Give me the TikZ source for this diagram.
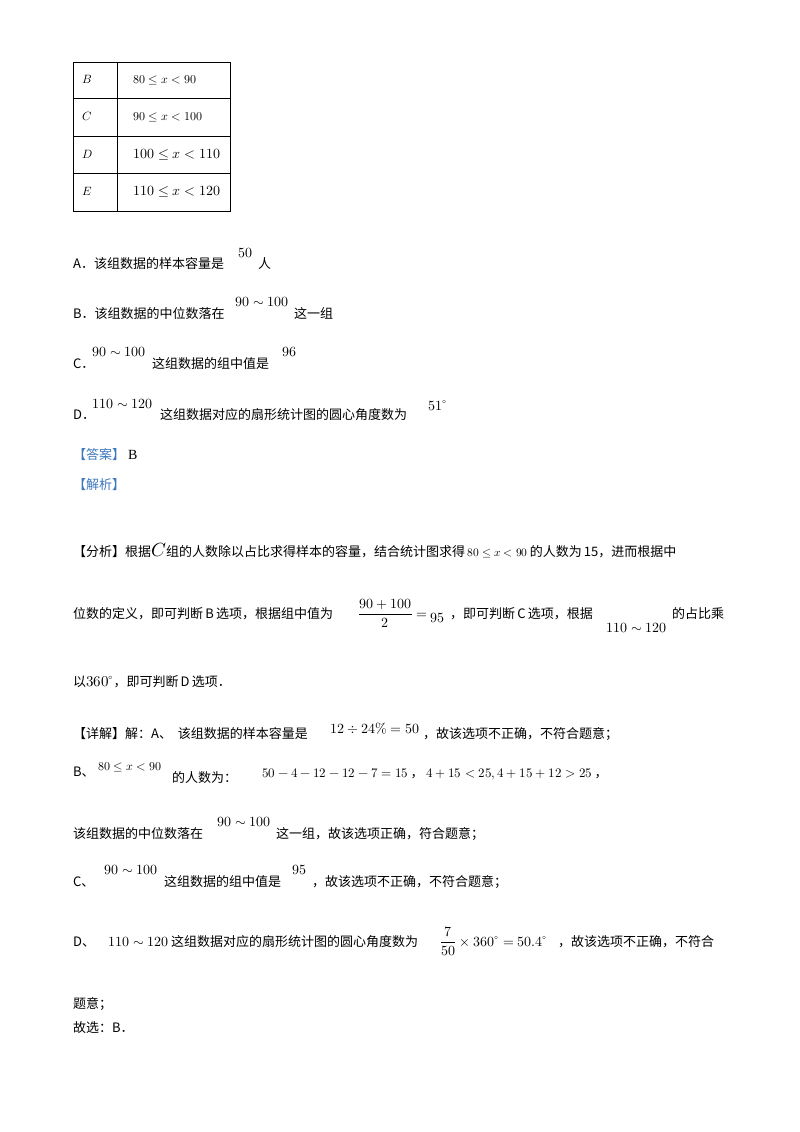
\documentclass[tikz,border=0pt]{standalone}
\usepackage{fontspec}
\usepackage{amsmath}
\usepackage{unicode-math}
\setmathfont{Latin Modern Math}
\newfontfamily\cjk{Noto Sans CJK SC}
\setmainfont{Liberation Serif}
\definecolor{hblue}{RGB}{60,120,190}
\begin{document}
\begin{tikzpicture}[x=1pt,y=-1pt,
  t/.style={anchor=base west,inner sep=0pt,font=\fontsize{13}{15}\selectfont\cjk},
  m/.style={anchor=base west,inner sep=0pt,font=\fontsize{14}{16}\selectfont},
  s/.style={anchor=base west,inner sep=0pt,font=\fontsize{12}{13}\selectfont}]
\useasboundingbox[fill=white] (0,0) rectangle (800,1132);
% table
\draw[line width=0.8pt] (73,62) rectangle (230,211);
\foreach \y in {98,136,173} \draw[line width=0.8pt] (73,\y) -- (230,\y);
\draw[line width=0.8pt] (117,62) -- (117,211);
\node[s] (rb) at (82,84) {$B$};
\node[s] (rc) at (82,120) {$C$};
\node[s] (rd) at (82,158) {$D$};
\node[s] (re) at (82,195) {$E$};
\node[s] (vb) at (133,84) {$80\le x<90$};
\node[s] (vc) at (133,120) {$90\le x<100$};
\node[m] (vd) at (133,158) {$100\le x<110$};
\node[m] (ve) at (133,195) {$110\le x<120$};
% options
\node[t] (a1) at (73,268) {A．该组数据的样本容量是};
\node[m] (a2) at (238,257) {$50$};
\node[t] (a3) at (258,268) {人};
\node[t] (b1) at (73,318) {B．该组数据的中位数落在};
\node[m] (b2) at (235,306) {$90\sim100$};
\node[t] (b3) at (294,318) {这一组};
\node[t] (c1) at (73,368) {C．};
\node[m] (c2) at (92,356) {$90\sim100$};
\node[t] (c3) at (152,368) {这组数据的组中值是};
\node[m] (c4) at (282,356) {$96$};
\node[t] (d1) at (73,419) {D．};
\node[m] (d2) at (92,408) {$110\sim120$};
\node[t] (d3) at (160,419) {这组数据对应的扇形统计图的圆心角度数为};
\node[m] (d4) at (428,410) {$51^\circ$};
\node[t,text=hblue] (ans) at (73,459) {【答案】};
\node[m] (ansb) at (128,459) {B};
\node[t,text=hblue] (jx) at (73,489) {【解析】};
% analysis
\node[t] (f1) at (73,556) {【分析】根据{\fontsize{19}{19}\selectfont$C$}组的人数除以占比求得样本的容量，结合统计图求得\,{\fontsize{11.5}{11}\selectfont$80\le x<90$}\,的人数为\,15，进而根据中};
\node[t] (f2) at (73,618) {位数的定义，即可判断\,B\,选项，根据组中值为};
\node[m] (f3) at (358,618) {$\dfrac{90+100}{2}=$};
\node[m] (f4) at (430,622) {$95$};
\node[t] (f5) at (450,618) {，即可判断\,C\,选项，根据};
\node[m] (f6) at (606,632) {$110\sim120$};
\node[t] (f7) at (672,618) {的占比乘};
\node[t] (f8) at (73,686) {以{\fontsize{15}{15}\selectfont$360^\circ$}，即可判断\,D\,选项．};
% detail
\node[t] (g1) at (73,738) {【详解】解：A、\ \ 该组数据的样本容量是};
\node[m] (g2) at (330,733) {$12\div24\%=50$};
\node[t] (g3) at (423,738) {，故该选项不正确，不符合题意；};
\node[t] (h1) at (73,776) {B、};
\node[s] (h2) at (98,770) {$80\le x<90$};
\node[t] (h3) at (172,782) {的人数为：};
\node[m,font=\fontsize{13}{15}\selectfont] (h4) at (262,777) {$50-4-12-12-7=15$};
\node[t] (h5) at ([xshift=2pt]h4.base east) {，};
\node[m,font=\fontsize{13}{15}\selectfont] (h6) at ([xshift=2pt]h5.base east) {$4+15<25,4+15+12>25$};
\node[t] (h7) at ([xshift=2pt]h6.base east) {，};
\node[t] (i1) at (73,838) {该组数据的中位数落在};
\node[m] (i2) at (217,826) {$90\sim100$};
\node[t] (i3) at (276,838) {这一组，故该选项正确，符合题意；};
\node[t] (j1) at (73,886) {C、};
\node[m] (j2) at (104,874) {$90\sim100$};
\node[t] (j3) at (164,886) {这组数据的组中值是};
\node[m] (j4) at (292,874) {$95$};
\node[t] (j5) at (312,886) {，故该选项不正确，不符合题意；};
\node[t] (k1) at (73,946) {D、};
\node[m] (k2) at (108,946) {$110\sim120$};
\node[t] (k3) at ([xshift=2pt]k2.base east) {这组数据对应的扇形统计图的圆心角度数为};
\node[m] (k4) at (440,946) {$\dfrac{7}{50}\times360^\circ=50.4^\circ$};
\node[t] (k5) at (558,946) {，故该选项不正确，不符合};
\node[t] (l1) at (73,1008) {题意；};
\node[t] (l2) at (73,1032) {故选：B．};
\end{tikzpicture}
\end{document}
